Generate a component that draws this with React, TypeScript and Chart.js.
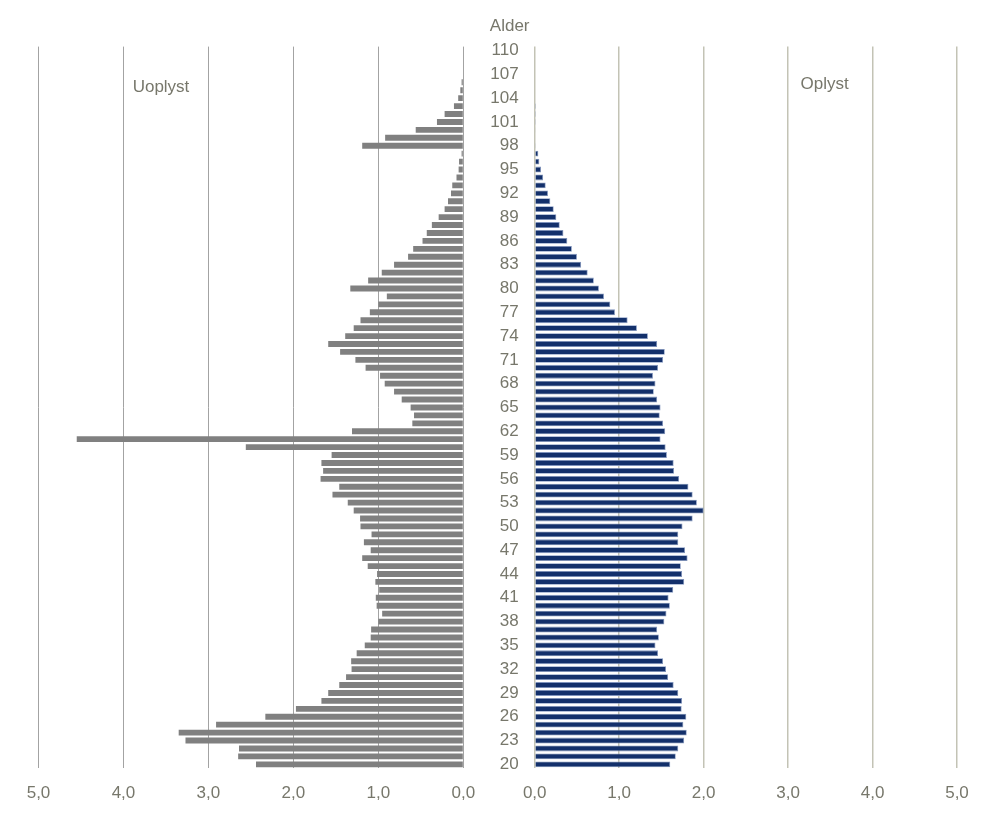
import React, { useEffect, useRef } from 'react';
import { Chart, registerables } from 'chart.js';

Chart.register(...registerables);

// Categories: age 20 .. 110
const ages = [
  20, 21, 22, 23, 24, 25, 26, 27, 28, 29,
  30, 31, 32, 33, 34, 35, 36, 37, 38, 39,
  40, 41, 42, 43, 44, 45, 46, 47, 48, 49,
  50, 51, 52, 53, 54, 55, 56, 57, 58, 59,
  60, 61, 62, 63, 64, 65, 66, 67, 68, 69,
  70, 71, 72, 73, 74, 75, 76, 77, 78, 79,
  80, 81, 82, 83, 84, 85, 86, 87, 88, 89,
  90, 91, 92, 93, 94, 95, 96, 97, 98, 99,
  100, 101, 102, 103, 104, 105, 106, 107, 108, 109, 110,
];

// Uoplyst (percent), age 20 .. 110
const uoplyst = [
  2.44, 2.65, 2.64, 3.27, 3.35, 2.91, 2.33, 1.97, 1.67, 1.59,
  1.46, 1.38, 1.315, 1.32, 1.255, 1.16, 1.09, 1.085, 1.0, 0.955,
  1.02, 1.03, 0.99, 1.035, 1.015, 1.125, 1.19, 1.09, 1.17, 1.08,
  1.21, 1.215, 1.29, 1.36, 1.54, 1.46, 1.68, 1.65, 1.67, 1.55,
  2.56, 4.55, 1.31, 0.6, 0.58, 0.62, 0.725, 0.815, 0.925, 0.98,
  1.15, 1.27, 1.45, 1.59, 1.39, 1.29, 1.21, 1.1, 1.0, 0.9,
  1.33, 1.12, 0.96, 0.815, 0.65, 0.59, 0.48, 0.43, 0.37, 0.29,
  0.22, 0.18, 0.145, 0.13, 0.08, 0.055, 0.05, 0.02, 1.19, 0.92,
  0.56, 0.31, 0.22, 0.11, 0.06, 0.035, 0.02, 0, 0, 0, 0,
];

// Oplyst (percent), age 20 .. 110
const oplyst = [
  1.605, 1.67, 1.7, 1.77, 1.8, 1.76, 1.795, 1.74, 1.745, 1.7,
  1.645, 1.58, 1.555, 1.52, 1.46, 1.43, 1.47, 1.45, 1.535, 1.56,
  1.6, 1.585, 1.64, 1.77, 1.745, 1.73, 1.81, 1.78, 1.7, 1.7,
  1.75, 1.87, 2.0, 1.92, 1.87, 1.82, 1.71, 1.65, 1.645, 1.565,
  1.55, 1.49, 1.545, 1.52, 1.48, 1.49, 1.45, 1.41, 1.43, 1.4,
  1.46, 1.52, 1.54, 1.45, 1.34, 1.21, 1.1, 0.95, 0.895, 0.82,
  0.76, 0.7, 0.627, 0.55, 0.5, 0.44, 0.386, 0.34, 0.296, 0.256,
  0.225, 0.185, 0.157, 0.13, 0.1, 0.075, 0.055, 0.043, 0.012, 0.009,
  0.007, 0.005, 0.004, 0.003, 0, 0, 0, 0, 0, 0, 0,
];

// Age labels shown on the middle axis
const ageTickLabels = [
  110, 107, 104, 101, 98, 95, 92, 89, 86, 83, 80, 77, 74, 71, 68, 65,
  62, 59, 56, 53, 50, 47, 44, 41, 38, 35, 32, 29, 26, 23, 20,
];

// Value axis ticks
const valueTicks = [0, 1, 2, 3, 4, 5];
const valueTickLabels = ['0,0', '1,0', '2,0', '3,0', '4,0', '5,0'];

const FONT = "'Liberation Sans', Arial, sans-serif";
const TEXT = '#77776b';

const W = 985;
const H = 836;
const PLOT_TOP = 46.6;
const PLOT_BOTTOM = 768.3;

function labelFor(v: number): string {
  const i = valueTicks.indexOf(Math.round(v));
  return i >= 0 ? valueTickLabels[i] : '';
}

export default function App() {
  const leftRef = useRef<HTMLCanvasElement | null>(null);
  const rightRef = useRef<HTMLCanvasElement | null>(null);

  useEffect(() => {
    const font = { family: FONT, size: 17 };
    const xHeightFit = (scale: any) => {
      scale.height = H - PLOT_BOTTOM;
    };

    const left = new Chart(leftRef.current as HTMLCanvasElement, {
      type: 'bar',
      data: {
        labels: ages.map(String),
        datasets: [
          {
            label: 'Uoplyst',
            data: uoplyst,
            backgroundColor: '#808080',
            borderWidth: 0,
            categoryPercentage: 1,
            barPercentage: 0.74,
          },
        ],
      },
      options: {
        indexAxis: 'y',
        responsive: false,
        animation: false,
        events: [],
        layout: { padding: { left: 38.5, right: 480 - 463.3, top: PLOT_TOP, bottom: 0 } },
        plugins: { legend: { display: false }, tooltip: { enabled: false }, title: { display: false } },
        scales: {
          x: {
            reverse: true,
            min: 0,
            max: 5,
            afterBuildTicks: (scale: any) => {
              scale.ticks = valueTicks.map((v) => ({ value: v }));
            },
            afterFit: xHeightFit,
            grid: { color: '#a3a3a3', lineWidth: 1, drawTicks: false },
            border: { display: false },
            ticks: {
              color: TEXT,
              font,
              padding: 15,
              callback: (v: any) => labelFor(Number(v)),
            },
          },
          y: {
            type: 'category',
            reverse: true,
            display: false,
            grid: { display: false },
          },
        },
      },
    });

    const right = new Chart(rightRef.current as HTMLCanvasElement, {
      type: 'bar',
      data: {
        labels: ages.map(String),
        datasets: [
          {
            label: 'Oplyst',
            data: oplyst,
            backgroundColor: '#13306b',
            borderColor: '#7f93bd',
            borderWidth: 0.8,
            categoryPercentage: 1,
            barPercentage: 0.74,
          },
        ],
      },
      options: {
        indexAxis: 'y',
        responsive: false,
        animation: false,
        events: [],
        layout: { padding: { left: 0, right: 28, top: PLOT_TOP, bottom: 0 } },
        plugins: { legend: { display: false }, tooltip: { enabled: false }, title: { display: false } },
        scales: {
          x: {
            min: 0,
            max: 5,
            afterBuildTicks: (scale: any) => {
              scale.ticks = valueTicks.map((v) => ({ value: v }));
            },
            afterFit: xHeightFit,
            grid: { color: '#c3c3b5', lineWidth: 1.5, drawTicks: false },
            border: { display: false },
            ticks: {
              color: TEXT,
              font,
              padding: 15,
              callback: (v: any) => labelFor(Number(v)),
            },
          },
          y: {
            type: 'category',
            reverse: true,
            afterFit: (scale: any) => {
              scale.width = 534.7 - 480;
            },
            grid: { display: false, drawTicks: false },
            border: { display: false },
            ticks: {
              color: TEXT,
              font,
              padding: 16,
              autoSkip: false,
              callback: (_v: any, idx: number) => {
                const age = ages[idx];
                return ageTickLabels.indexOf(age) >= 0 ? String(age) : '';
              },
            },
          },
        },
      },
    });

    return () => {
      left.destroy();
      right.destroy();
    };
  }, []);

  const textStyle: React.CSSProperties = {
    position: 'absolute',
    fontFamily: FONT,
    fontSize: 17,
    lineHeight: '20px',
    color: TEXT,
    whiteSpace: 'nowrap',
    transform: 'translateX(-50%)',
  };

  return (
    <div style={{ position: 'absolute', left: 0, top: 0, width: W, height: H, overflow: 'hidden', background: '#fff' }}>
      <canvas ref={leftRef} width={480} height={H} style={{ position: 'absolute', left: 0, top: 0, display: 'block' }} />
      <canvas ref={rightRef} width={505} height={H} style={{ position: 'absolute', left: 480, top: 0, display: 'block' }} />
      <div style={{ ...textStyle, left: 509.7, top: 16 }}>Alder</div>
      <div style={{ ...textStyle, left: 161, top: 76.7 }}>Uoplyst</div>
      <div style={{ ...textStyle, left: 824.7, top: 73.5 }}>Oplyst</div>
    </div>
  );
}
